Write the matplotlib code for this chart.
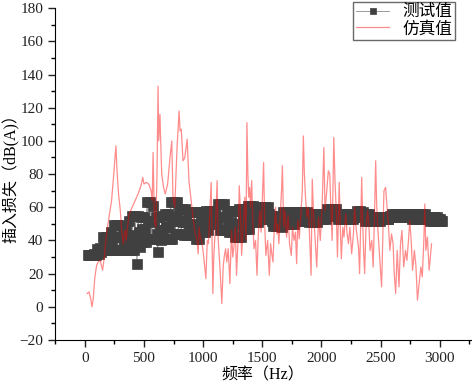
import numpy as np
import matplotlib
matplotlib.use("Agg")
import matplotlib.pyplot as plt
from matplotlib.ticker import MultipleLocator

plt.rcParams['font.family'] = ['Liberation Serif', 'Noto Sans CJK SC', 'DejaVu Sans']
plt.rcParams['axes.unicode_minus'] = True

# measured (测试值) – read per 25 Hz step: upper, middle and lower points of the band
test_base = list(range(25, 3001, 25))
test_upper = [31.5, 31.5, 32, 35, 35.5, 42, 42, 42, 45, 49.5,
              49.5, 49.5, 47, 47, 52, 55, 55, 55, 54, 54,
              63, 63, 61, 54, 54, 55, 56, 56, 63, 63,
              63, 59, 59, 59, 57, 57, 57, 57, 57, 54,
              58, 58, 58, 58, 62, 62, 62, 56, 58, 58,
              58, 59, 59, 59, 61, 61, 61, 59, 60, 60,
              60, 60, 55, 55, 55, 55, 57, 57, 57, 57,
              57, 57, 57, 57, 57, 56, 56, 56, 56, 55,
              55, 59, 59, 59, 59, 56, 56, 56, 56, 56,
              56, 58, 58, 57, 56, 56, 54, 54, 54, 54,
              54, 54, 55, 56, 56, 56, 56, 56, 56, 56,
              56, 56, 56, 56, 56, 54, 54, 54, 54, 53]
test_middle = [31, 31, 31.5, 33, 34, 38, 38, 38, 40, 42,
               42, 42, 40, 40, 43, 42, 40, 45, 47, 47,
               52, 52, 51, 44, 46, 46, 48, 48, 52, 54,
               54, 52, 51, 51, 50, 50, 49, 49, 51, 50,
               52, 54, 54, 54, 54, 54, 54, 50, 51, 50,
               50, 50, 53, 53, 54, 56, 56, 55, 56, 56,
               56, 56, 52, 52, 52, 52, 53, 53, 53, 53,
               54, 54, 54, 54, 54, 53, 53, 53, 54, 54,
               54, 57, 57, 57, 56, 54, 54, 54, 54, 54,
               55, 56, 56, 54, 54, 54, 53, 53, 53, 53,
               53, 53, 54, 55, 55, 55, 55, 55, 55, 54,
               54, 54, 54, 54, 54, 53, 53, 53, 53, 52]
test_lower = [31, 31, 31, 32, 33, 34, 34, 34, 34, 34,
              34, 34, 34, 34, 34, 34, 26, 36, 39, 39,
              41, 41, 41, 33, 40, 41, 41, 41, 41, 44,
              44, 44, 43, 43, 43, 43, 41, 41, 45, 45,
              46, 50, 50, 50, 46, 46, 46, 45, 45, 42,
              42, 42, 47, 47, 47, 51, 51, 51, 53, 53,
              53, 53, 49, 49, 49, 48, 50, 50, 50, 50,
              52, 52, 52, 52, 51, 51, 51, 51, 53, 53,
              53, 55, 55, 55, 53, 53, 53, 53, 53, 53,
              54, 54, 54, 52, 52, 52, 52, 52, 52, 53,
              53, 53, 54, 54, 54, 54, 54, 54, 54, 53,
              53, 53, 53, 53, 53, 52, 52, 52, 52, 52]

# simulated (仿真值)
sim_freq = [20, 35, 50, 60, 70, 85, 100, 113, 130, 150, 165, 180, 200, 226, 245, 255, 263, 272, 285, 300,
            312, 325, 335, 342, 350, 360, 375, 400, 425, 450, 475, 490, 500, 520, 540, 560, 570, 577, 583, 590,
            600, 610, 619, 625, 635, 642, 650, 665, 680, 700, 720, 735, 745, 760, 780, 797, 805, 815, 830, 845,
            856, 865, 880, 905, 930, 948, 958, 966, 975, 990, 1005, 1023, 1035, 1045, 1058, 1068, 1075, 1082, 1090, 1100,
            1110, 1118, 1126, 1135, 1145, 1158, 1170, 1180, 1190, 1200, 1212, 1226, 1240, 1250, 1260, 1272, 1282, 1295, 1305, 1315,
            1325, 1340, 1352, 1362, 1370, 1378, 1385, 1393, 1400, 1410, 1420, 1430, 1443, 1455, 1465, 1478, 1490, 1498, 1511, 1520,
            1530, 1545, 1559, 1570, 1580, 1590, 1600, 1612, 1622, 1630, 1640, 1652, 1662, 1670, 1680, 1690, 1705, 1718, 1730, 1745,
            1755, 1768, 1780, 1790, 1800, 1812, 1825, 1838, 1847, 1855, 1865, 1878, 1890, 1900, 1912, 1922, 1932, 1942, 1952, 1960,
            1975, 1990, 2005, 2020, 2030, 2045, 2058, 2070, 2080, 2090, 2104, 2115, 2125, 2135, 2150, 2160, 2168, 2180, 2190, 2205,
            2215, 2228, 2240, 2255, 2270, 2280, 2292, 2305, 2314, 2322, 2340, 2348, 2357, 2365, 2375, 2390, 2400, 2410, 2425, 2437,
            2448, 2458, 2466, 2478, 2490, 2508, 2518, 2528, 2542, 2552, 2565, 2578, 2592, 2605, 2615, 2627, 2640, 2655, 2668, 2680,
            2695, 2710, 2722, 2735, 2746, 2758, 2770, 2785, 2798, 2811, 2825, 2840, 2852, 2865, 2873, 2882, 2895, 2910, 2920, 2930]
sim_val = [8, 9, 5, 0, 4, 18, 25, 27, 28, 22, 30, 42, 52, 64, 80, 90, 97, 82, 68, 58,
           46, 38, 44, 46, 40, 48, 56, 60, 64, 68, 73, 78, 74, 75, 74, 70, 64, 93, 70, 50,
           48, 80, 133, 100, 116, 98, 80, 72, 68, 74, 90, 100, 66, 60, 97, 118, 106, 107, 88, 90,
           96, 101, 76, 60, 45, 40, 32, 48, 42, 39, 30, 17, 40, 38, 60, 75, 40, 8, 30, 44,
           60, 76, 42, 32, 20, 2, 25, 31, 35, 27, 35, 14, 46, 30, 36, 48, 19, 40, 73, 58,
           31, 50, 66, 40, 111, 80, 66, 72, 60, 76, 50, 35, 40, 19, 42, 58, 45, 60, 87, 50,
           31, 40, 19, 38, 32, 27, 45, 60, 44, 50, 38, 55, 70, 85, 48, 58, 42, 55, 38, 31,
           48, 40, 45, 26, 52, 41, 55, 70, 103, 81, 66, 54, 60, 42, 19, 77, 58, 46, 35, 24,
           54, 40, 60, 96, 58, 70, 82, 80, 58, 40, 102, 74, 58, 30, 75, 45, 29, 48, 42, 56,
           45, 38, 48, 32, 44, 60, 48, 40, 35, 20, 78, 52, 32, 20, 46, 58, 50, 34, 40, 24,
           55, 88, 62, 45, 32, 12, 40, 70, 72, 62, 50, 34, 44, 38, 20, 8, 34, 12, 38, 46,
           24, 34, 28, 40, 52, 40, 22, 34, 25, 4, 14, 24, 18, 40, 62, 34, 42, 22, 30, 38]

x_ticks = [0, 500, 1000, 1500, 2000, 2500, 3000]
y_ticks = [-20, 0, 20, 40, 60, 80, 100, 120, 140, 160, 180]

# measured series: upper / middle / lower points of each step in sequence
test_freq, test_val = [], []
for f, u, m, l in zip(test_base, test_upper, test_middle, test_lower):
    test_freq += [f, f + 8, f + 16]
    test_val += [u, m, l]

fig = plt.figure(figsize=(4.72, 3.89), dpi=100)
ax = fig.add_axes([0.117, 0.126, 0.88, 0.853])

ax.plot(test_freq, test_val, color='#8a8a8a', lw=0.6, marker='s', markersize=7,
        markerfacecolor='#404040', markeredgecolor='#404040', markeredgewidth=0.5,
        label='测试值', zorder=2)
ax.plot(sim_freq, sim_val, color='#ff0000', alpha=0.45, lw=0.9, label='仿真值', zorder=3)

ax.set_xlim(-250, 3260)
ax.set_ylim(-20, 180)
ax.set_xticks(x_ticks)
ax.set_yticks(y_ticks)
ax.xaxis.set_minor_locator(MultipleLocator(250))
ax.yaxis.set_minor_locator(MultipleLocator(10))
ax.spines['top'].set_visible(False)
ax.spines['right'].set_visible(False)
ax.tick_params(axis='both', which='major', direction='out', length=5, width=1, labelsize=11, colors='#222222')
ax.tick_params(axis='both', which='minor', direction='out', length=3, width=1)
ax.set_xlabel('频率（Hz）', fontsize=11.5, labelpad=2)
ax.set_ylabel('插入损失（dB(A)）', fontsize=11.5)
ax.yaxis.set_label_coords(-0.086, 0.5)

leg = ax.legend(loc='upper right', bbox_to_anchor=(0.964, 0.995), bbox_transform=fig.transFigure,
                fontsize=12, frameon=True, fancybox=False, edgecolor='#444444', borderpad=0.15,
                handlelength=2.0, labelspacing=0.05, handletextpad=0.8, borderaxespad=0.0,
                markerscale=0.7)
leg.get_frame().set_linewidth(1.0)

fig.savefig('out.png', dpi=100)
